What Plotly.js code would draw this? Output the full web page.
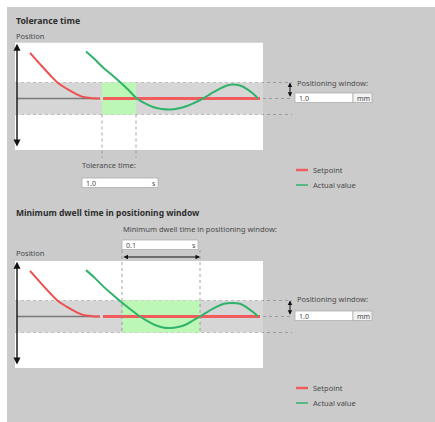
<!DOCTYPE html>
<html><head><meta charset="utf-8">
<script src="https://cdn.plot.ly/plotly-3.0.1.min.js"></script>
<style>html,body{margin:0;padding:0;background:#fff}</style>
</head><body><div id="chart" style="width:435px;height:422px"></div>
<script>
// ---- data (time units, position in mm relative to target) ----
const setpointTime = [0.75, 1.25, 1.75, 2.15, 2.6, 3.0, 3.4, 3.85, 4.25];
const setpointPos  = [2.85, 2.15, 1.47, 0.97, 0.6, 0.32, 0.1, 0.02, 0];
const holdTime = [4.4, 12.25];
const holdPos  = [0, 0];
const targetTime = [0.1, 4.25];
const targetPos  = [0, 0];

const actualTimeTop = [3.55,4.0,4.4,4.85,5.25,5.65,6.1,6.5,6.9,7.35,7.75,8.15,8.6,9.0,9.4,9.8,10.2,10.6,10.9,11.25,11.6,11.9,12.15];
const actualPosTop  = [2.94,2.44,1.94,1.47,1.03,0.56,0,-0.31,-0.53,-0.66,-0.69,-0.63,-0.47,-0.25,0,0.31,0.59,0.81,0.875,0.81,0.59,0.31,0];

const actualTimeBottom = [3.55,4.0,4.4,4.85,5.25,5.75,6.25,6.65,7.0,7.4,7.75,8.15,8.55,8.9,9.25,9.65,10.05,10.45,10.85,11.25,11.6,11.9,12.15];
const actualPosBottom  = [2.9,2.4,1.9,1.4,0.97,0.47,0,-0.3,-0.53,-0.69,-0.72,-0.66,-0.5,-0.25,0,0.31,0.59,0.8,0.85,0.8,0.56,0.28,0];

const positioningWindow = 1.0;            // mm (half width of band)
const toleranceWindow = [4.35, 6.05];     // start / end of tolerance time
const dwellWindow = [5.35, 9.25];         // start / end of minimum dwell time
const toleranceValue = "1.0";
const dwellValue = "0.1";
const windowValue = "1.0";
const legendNames = ["Setpoint", "Actual value"];

// ---- styling / layout ----
const W = 435, H = 422;
const P = px => px / W;
const Q = py => 1 - py / H;
const RED = '#ee4f4f', RED2 = '#f25c5c', GREEN = '#2fb36b';
const PANEL = '#cbcbcb', BAND = '#d6d6d6', GREENFILL = '#bdf7b5';
const FONT = '"Noto Sans", "Open Sans", sans-serif';

function traces(xa, ya, at, ap) {
  return [
    {x: targetTime, y: targetPos, xaxis: xa, yaxis: ya, mode: 'lines', line: {color: '#7a7a7a', width: 1.5}, showlegend: false, hoverinfo: 'skip'},
    {x: setpointTime, y: setpointPos, xaxis: xa, yaxis: ya, mode: 'lines', line: {color: RED, width: 2, shape: 'spline'}, showlegend: false, name: legendNames[0]},
    {x: holdTime, y: holdPos, xaxis: xa, yaxis: ya, mode: 'lines', line: {color: RED2, width: 3}, showlegend: false, name: legendNames[0]},
    {x: at, y: ap, xaxis: xa, yaxis: ya, mode: 'lines', line: {color: GREEN, width: 2, shape: 'spline'}, showlegend: false, name: legendNames[1]}
  ];
}
const data = [...traces('x', 'y', actualTimeTop, actualPosTop), ...traces('x2', 'y2', actualTimeBottom, actualPosBottom)];

const shapes = [];
const annotations = [];
function txt(text, x, y, size, opts) {
  annotations.push(Object.assign({text, xref: 'paper', yref: 'paper', x: P(x), y: Q(y), xanchor: 'left', yanchor: 'middle',
    showarrow: false, borderpad: 0, font: {family: FONT, size, color: '#4a4a4a'}}, opts || {}));
}
function box(x0, x1, y0, y1, fill) {
  shapes.push({type: 'rect', xref: 'paper', yref: 'paper', x0: P(x0), x1: P(x1), y0: Q(y1), y1: Q(y0), fillcolor: fill || '#ffffff', line: {color: '#a8a8a8', width: 0.7}});
}

// white border strips
shapes.push({type: 'rect', xref: 'paper', yref: 'paper', x0: 0, x1: 1, y0: Q(7), y1: 1, fillcolor: '#fff', line: {width: 0}});
shapes.push({type: 'rect', xref: 'paper', yref: 'paper', x0: 0, x1: P(7), y0: 0, y1: 1, fillcolor: '#fff', line: {width: 0}});

function panel(xr, yr, win, winTop, winBottom, legY, boxY, labelY) {
  const w = positioningWindow;
  shapes.push({type: 'rect', xref: xr, yref: yr, x0: 0, x1: 12.4, y0: -w, y1: w, fillcolor: BAND, line: {width: 0}, layer: 'below'});
  shapes.push({type: 'rect', xref: xr, yref: yr, x0: win[0], x1: win[1], y0: -w, y1: w, fillcolor: GREENFILL, line: {width: 0}, layer: 'below'});
  [w, -w].forEach(v => shapes.push({type: 'line', xref: 'paper', yref: yr, x0: P(15), x1: P(292), y0: v, y1: v, line: {color: '#8e8e8e', width: 0.8, dash: 'dot'}, layer: 'below'}));
  shapes.push({type: 'line', xref: 'paper', yref: yr, x0: P(263), x1: P(292), y0: 0, y1: 0, line: {color: '#8e8e8e', width: 0.8, dash: 'dot'}});
  win.forEach(v => shapes.push({type: 'line', xref: xr, yref: 'paper', x0: v, x1: v, y0: Q(winTop), y1: Q(winBottom), line: {color: '#8e8e8e', width: 0.8, dash: 'dot'}}));
  // vertical position axis
  annotations.push({xref: xr, yref: yr, axref: xr, ayref: yr, x: 0.1, y: 3.42, ax: 0.1, ay: -3.1, text: '', showarrow: true,
    arrowside: 'end+start', arrowhead: 2, arrowsize: 1, arrowwidth: 1.4, arrowcolor: '#111'});
  // arrowhead on target line
  annotations.push({xref: xr, yref: yr, axref: xr, ayref: yr, x: 12.38, y: 0, ax: 12.2, ay: 0, text: '', showarrow: true,
    arrowhead: 2, arrowsize: 1.2, arrowwidth: 1.4, arrowcolor: '#111'});
  // positioning window double arrow
  annotations.push({xref: 'paper', yref: yr, axref: 'pixel', ayref: yr, x: P(290), y: w, ax: 0, ay: 0.02, text: '', showarrow: true,
    arrowside: 'end+start', arrowhead: 2, arrowsize: 0.9, arrowwidth: 1, arrowcolor: '#111'});
  txt('Positioning window:', 296, labelY, 7.5);
  box(295, 353, boxY, boxY + 9.5);
  box(353, 372, boxY, boxY + 9.5, '#f2f2f2');
  txt(windowValue, 298, boxY + 5, 7);
  txt('mm', 356, boxY + 5, 7);
  // legend
  shapes.push({type: 'line', xref: 'paper', yref: 'paper', x0: P(296), x1: P(308), y0: Q(legY), y1: Q(legY), line: {color: RED2, width: 2.5}});
  shapes.push({type: 'line', xref: 'paper', yref: 'paper', x0: P(296), x1: P(308), y0: Q(legY + 15), y1: Q(legY + 15), line: {color: GREEN, width: 1.5}});
  txt(legendNames[0], 312, legY, 7.5);
  txt(legendNames[1], 312, legY + 15, 7.5);
}

const TITLEFONT = {family: FONT, size: 8.7, color: '#2e2e2e', weight: 'bold'};
// top panel
txt('Tolerance time', 15, 21, 8.7, {font: TITLEFONT});
txt('Position', 15, 36, 7.5);
panel('x', 'y', toleranceWindow, 114.5, 158, 170, 93, 83);
txt('Tolerance time:', 81, 165, 7.5);
box(82, 158, 178, 187.5);
txt(toleranceValue, 85, 183, 7);
txt('s', 151, 183, 7);

// bottom panel
txt('Minimum dwell time in positioning window', 15, 212, 8.7, {font: Object.assign({}, TITLEFONT, {size: 8.5})});
txt('Minimum dwell time in positioning window:', 122, 229, 7.5);
box(122, 198, 240, 249.5);
txt(dwellValue, 125, 245, 7);
txt('s', 191, 245, 7);
annotations.push({xref: 'x2', yref: 'paper', axref: 'x2', ayref: 'pixel', x: dwellWindow[1], y: Q(257), ax: dwellWindow[0], ay: 0, text: '', showarrow: true,
  arrowside: 'end+start', arrowhead: 2, arrowsize: 0.9, arrowwidth: 1, arrowcolor: '#111'});
txt('Position', 15, 253, 7.5);
panel('x2', 'y2', dwellWindow, 250, 332.5, 388, 311, 299);

const hidden = {visible: false, showgrid: false, zeroline: false, fixedrange: true};
const layout = {
  width: W, height: H, margin: {l: 0, r: 0, t: 0, b: 0},
  paper_bgcolor: PANEL, plot_bgcolor: '#ffffff', showlegend: false,
  xaxis: Object.assign({domain: [P(15), P(263)], range: [0, 12.4], anchor: 'y'}, hidden),
  yaxis: Object.assign({domain: [Q(150), Q(42.7)], range: [-3.22, 3.49], anchor: 'x'}, hidden),
  xaxis2: Object.assign({domain: [P(15), P(263)], range: [0, 12.4], anchor: 'y2'}, hidden),
  yaxis2: Object.assign({domain: [Q(368), Q(261)], range: [-3.22, 3.47], anchor: 'x2'}, hidden),
  shapes, annotations
};
Plotly.newPlot('chart', data, layout, {displayModeBar: false, staticPlot: true});
</script></body></html>
